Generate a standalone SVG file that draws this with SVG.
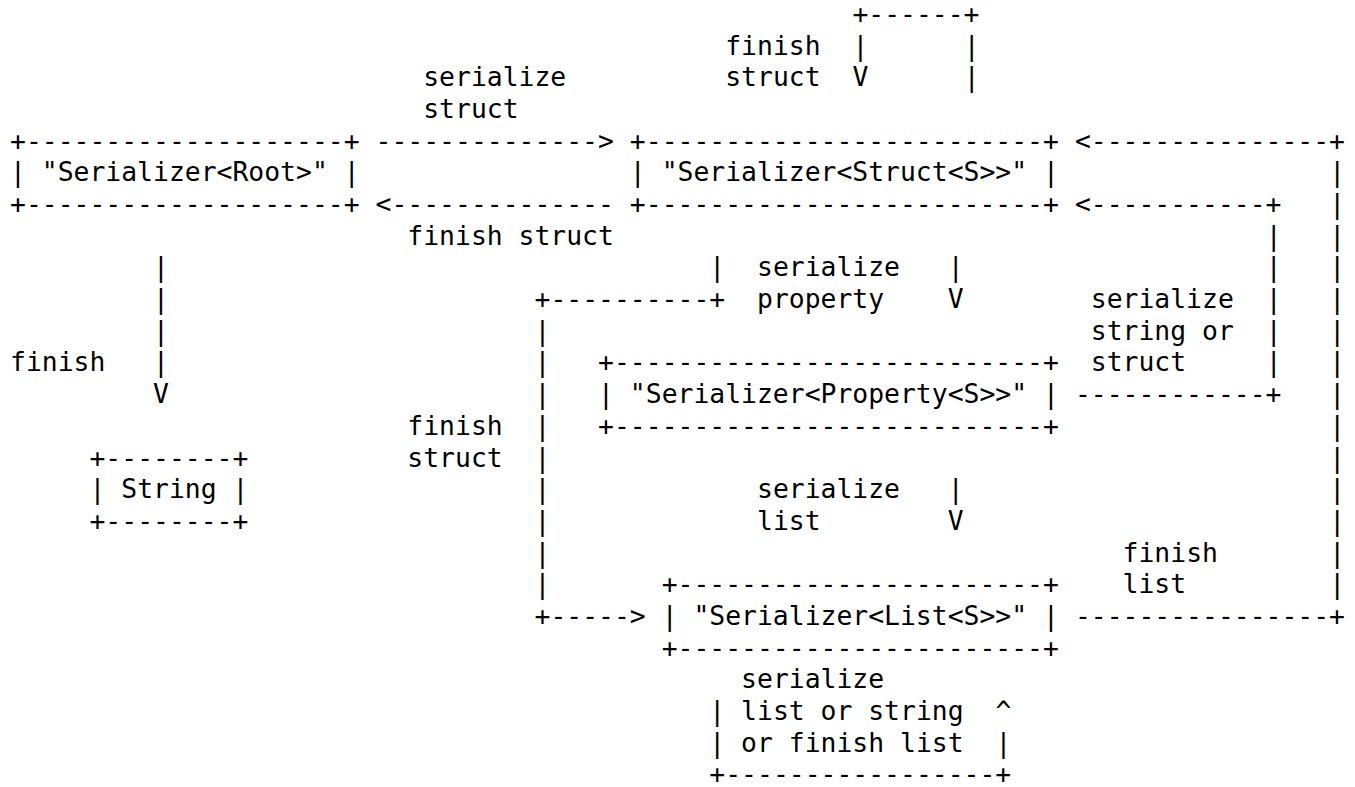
<svg xmlns="http://www.w3.org/2000/svg" width="1355" height="787" viewBox="0 0 1355 787" xml:space="preserve">
<style>
text{font-family:"DejaVu Sans Mono","Liberation Mono",monospace;font-size:26.4px;fill:#000;white-space:pre}
</style>
<rect width="1355" height="787" fill="#fff"/>
<g id="connectors">
<text x="852.38" y="23">+------+</text>
<text x="852.38" y="54.68">|</text><text x="963.64" y="54.68">|</text>
<text x="852.38" y="86.36">V</text><text x="963.64" y="86.36">|</text>
<text x="375.56" y="149.72">--------------&gt;</text>
<text x="1074.90" y="149.72">&lt;---------------+</text>
<text x="1329.20" y="181.4">|</text>
<text x="375.56" y="213.08">&lt;--------------</text>
<text x="1074.90" y="213.08">&lt;-----------+</text>
<text x="1329.20" y="213.08">|</text>
<text x="1265.63" y="244.76">|</text><text x="1329.20" y="244.76">|</text>
<text x="153.05" y="276.44">|</text><text x="709.34" y="276.44">|</text><text x="947.75" y="276.44">|</text><text x="1265.63" y="276.44">|</text><text x="1329.20" y="276.44">|</text>
<text x="153.05" y="308.12">|</text><text x="534.50" y="308.12">+----------+</text><text x="947.75" y="308.12">V</text><text x="1265.63" y="308.12">|</text><text x="1329.20" y="308.12">|</text>
<text x="153.05" y="339.8">|</text><text x="534.50" y="339.8">|</text><text x="1265.63" y="339.8">|</text><text x="1329.20" y="339.8">|</text>
<text x="153.05" y="371.48">|</text><text x="534.50" y="371.48">|</text><text x="1265.63" y="371.48">|</text><text x="1329.20" y="371.48">|</text>
<text x="153.05" y="403.16">V</text><text x="534.50" y="403.16">|</text><text x="1074.90" y="403.16">------------+</text><text x="1329.20" y="403.16">|</text>
<text x="534.50" y="434.84">|</text><text x="1329.20" y="434.84">|</text>
<text x="534.50" y="466.52">|</text><text x="1329.20" y="466.52">|</text>
<text x="534.50" y="498.2">|</text><text x="947.75" y="498.2">|</text><text x="1329.20" y="498.2">|</text>
<text x="534.50" y="529.88">|</text><text x="947.75" y="529.88">V</text><text x="1329.20" y="529.88">|</text>
<text x="534.50" y="561.56">|</text><text x="1329.20" y="561.56">|</text>
<text x="534.50" y="593.24">|</text><text x="1329.20" y="593.24">|</text>
<text x="534.50" y="624.92">+-----&gt;</text><text x="1074.90" y="624.92">----------------+</text>
<text x="709.34" y="719.96">|</text><text x="995.43" y="719.96">^</text>
<text x="709.34" y="751.64">|</text><text x="995.43" y="751.64">|</text>
<text x="709.34" y="783.32">+-----------------+</text>
</g>
<g id="labels">
<text x="725.23" y="54.68">finish</text>
<text x="423.24" y="86.36">serialize</text><text x="725.23" y="86.36">struct</text>
<text x="423.24" y="118.04">struct</text>
<text x="407.35" y="244.76">finish struct</text>
<text x="757.02" y="276.44">serialize</text>
<text x="757.02" y="308.12">property</text><text x="1090.79" y="308.12">serialize</text>
<text x="1090.79" y="339.8">string or</text>
<text x="10" y="371.48">finish</text><text x="1090.79" y="371.48">struct</text>
<text x="407.35" y="434.84">finish</text>
<text x="407.35" y="466.52">struct</text>
<text x="757.02" y="498.2">serialize</text>
<text x="757.02" y="529.88">list</text>
<text x="1122.58" y="561.56">finish</text>
<text x="1122.58" y="593.24">list</text>
<text x="741.12" y="688.28">serialize</text>
<text x="741.12" y="719.96">list or string</text>
<text x="741.12" y="751.64">or finish list</text>
</g>
<g id="node-root">
<text x="10" y="149.72">+--------------------+</text>
<text x="10" y="181.4">| "Serializer&lt;Root&gt;" |</text>
<text x="10" y="213.08">+--------------------+</text>
</g>
<g id="node-struct">
<text x="629.87" y="149.72">+-------------------------+</text>
<text x="629.87" y="181.4">| "Serializer&lt;Struct&lt;S&gt;&gt;" |</text>
<text x="629.87" y="213.08">+-------------------------+</text>
</g>
<g id="node-property">
<text x="598.08" y="371.48">+---------------------------+</text>
<text x="598.08" y="403.16">| "Serializer&lt;Property&lt;S&gt;&gt;" |</text>
<text x="598.08" y="434.84">+---------------------------+</text>
</g>
<g id="node-string">
<text x="89.47" y="466.52">+--------+</text>
<text x="89.47" y="498.2">| String |</text>
<text x="89.47" y="529.88">+--------+</text>
</g>
<g id="node-list">
<text x="661.65" y="593.24">+-----------------------+</text>
<text x="661.65" y="624.92">| "Serializer&lt;List&lt;S&gt;&gt;" |</text>
<text x="661.65" y="656.6">+-----------------------+</text>
</g>
</svg>
